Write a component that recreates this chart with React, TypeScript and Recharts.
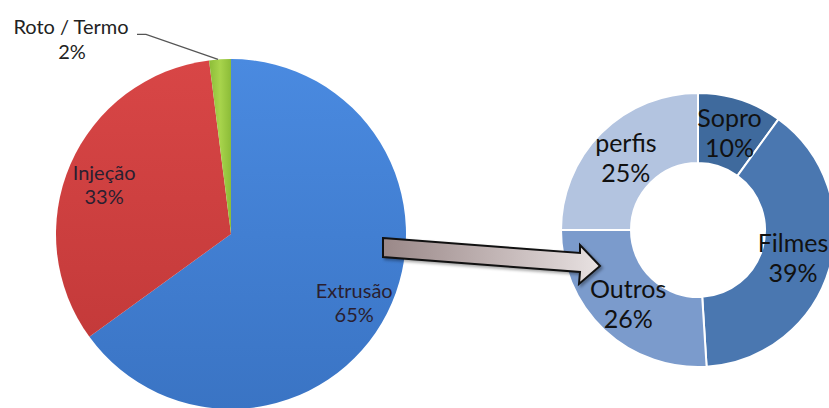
import React from "react";
import { PieChart, Pie, Cell } from "recharts";

const processNames = ["Extrusão", "Injeção", "Roto / Termo"];
const processValues = [65, 33, 2];
const processColors = ["url(#gBlue)", "url(#gRed)", "url(#gGreen)"];

const extrusionNames = ["Sopro", "Filmes", "Outros", "perfis"];
const extrusionValues = [10, 39, 26, 25];
const extrusionColors = ["#3f6a9d", "#4a77b0", "#7b9bcc", "#b3c4e0"];

const processData = processNames.map((name, i) => ({ name, value: processValues[i] }));
const extrusionData = extrusionNames.map((name, i) => ({ name, value: extrusionValues[i] }));

const RAD = Math.PI / 180;
const FONT = "Lato, 'Open Sans', sans-serif";

const pieLabel = (p: any) => {
  const { cx, cy, midAngle, outerRadius, index, name, value } = p;
  if (index === 2) {
    const ex = cx + outerRadius * Math.cos(-midAngle * RAD);
    const ey = cy + outerRadius * Math.sin(-midAngle * RAD);
    return (
      <g key={"l" + index}>
        <polyline
          points={`${ex - 2},${ey} ${ex - 74},${ey - 25} ${ex - 83},${ey - 25}`}
          fill="none"
          stroke="#555"
          strokeWidth={1.2}
        />
        <text x={71} y={34} textAnchor="middle" fontFamily={FONT} fontSize={20} fill="#222">
          {name}
        </text>
        <text x={72} y={59} textAnchor="middle" fontFamily={FONT} fontSize={20} fill="#222">
          {value}%
        </text>
      </g>
    );
  }
  const r = outerRadius * 0.79;
  const x = cx + r * Math.cos(-midAngle * RAD);
  const y = cy + r * Math.sin(-midAngle * RAD);
  return (
    <text key={"l" + index} x={x} y={y} textAnchor="middle" fontFamily={FONT} fontSize={20} fill="#2a1f30">
      <tspan x={x} dy={1}>{name}</tspan>
      <tspan x={x} dy={24}>{value}%</tspan>
    </text>
  );
};

const donutLabel = (p: any) => {
  const { cx, cy, midAngle, outerRadius, innerRadius, index, name, value } = p;
  const r = (outerRadius + innerRadius) / 2;
  const x = cx + r * Math.cos(-midAngle * RAD) - (index === 1 ? 3 : 0);
  const y = cy + r * Math.sin(-midAngle * RAD);
  return (
    <text key={"d" + index} x={x} y={y} textAnchor="middle" fontFamily={FONT} fontSize={25} fill="#111">
      <tspan x={x} dy={-6}>{name}</tspan>
      <tspan x={x} dy={30}>{value}%</tspan>
    </text>
  );
};

export default function App() {
  return (
    <div style={{ position: "absolute", left: 0, top: 0, width: 829, height: 408, background: "#fff" }}>
      <PieChart width={829} height={408} margin={{ top: 0, right: 0, bottom: 0, left: 0 }}>
        <defs>
          <linearGradient id="gBlue" x1="0" y1="0" x2="0" y2="1">
            <stop offset="0%" stopColor="#4a8ae0" />
            <stop offset="100%" stopColor="#3a74c4" />
          </linearGradient>
          <linearGradient id="gRed" x1="0" y1="0" x2="0" y2="1">
            <stop offset="0%" stopColor="#d84646" />
            <stop offset="100%" stopColor="#c43a3a" />
          </linearGradient>
          <linearGradient id="gGreen" x1="0" y1="0" x2="1" y2="0">
            <stop offset="0%" stopColor="#8cbc38" />
            <stop offset="50%" stopColor="#a8d44c" />
            <stop offset="100%" stopColor="#8cbc38" />
          </linearGradient>
        </defs>
        <Pie
          data={processData}
          dataKey="value"
          nameKey="name"
          cx={231}
          cy={234}
          outerRadius={175}
          startAngle={90}
          endAngle={-270}
          stroke="none"
          isAnimationActive={false}
          label={pieLabel}
          labelLine={false}
        >
          {processData.map((d, i) => (
            <Cell key={d.name} fill={processColors[i]} />
          ))}
        </Pie>
        <Pie
          data={extrusionData}
          dataKey="value"
          nameKey="name"
          cx={698}
          cy={230}
          innerRadius={67}
          outerRadius={137}
          startAngle={90}
          endAngle={-270}
          stroke="#ffffff"
          strokeWidth={2}
          isAnimationActive={false}
          label={donutLabel}
          labelLine={false}
        >
          {extrusionData.map((d, i) => (
            <Cell key={d.name} fill={extrusionColors[i]} />
          ))}
        </Pie>
      </PieChart>
      <svg
        width={829}
        height={408}
        style={{ position: "absolute", left: 0, top: 0, pointerEvents: "none" }}
      >
        <defs>
          <linearGradient id="gArrow" x1="0" y1="0" x2="1" y2="0">
            <stop offset="0%" stopColor="#9a8888" />
            <stop offset="60%" stopColor="#c8bcbc" />
            <stop offset="100%" stopColor="#e8e2e2" />
          </linearGradient>
        </defs>
        <polygon
          points="383,238 580,253 580,245 600,266 579,284 580,272 383,257"
          fill="url(#gArrow)"
          stroke="#111"
          strokeWidth={2}
          strokeLinejoin="miter"
          style={{ filter: "drop-shadow(2px 2px 1.5px rgba(0,0,0,0.35))" }}
        />
      </svg>
    </div>
  );
}
